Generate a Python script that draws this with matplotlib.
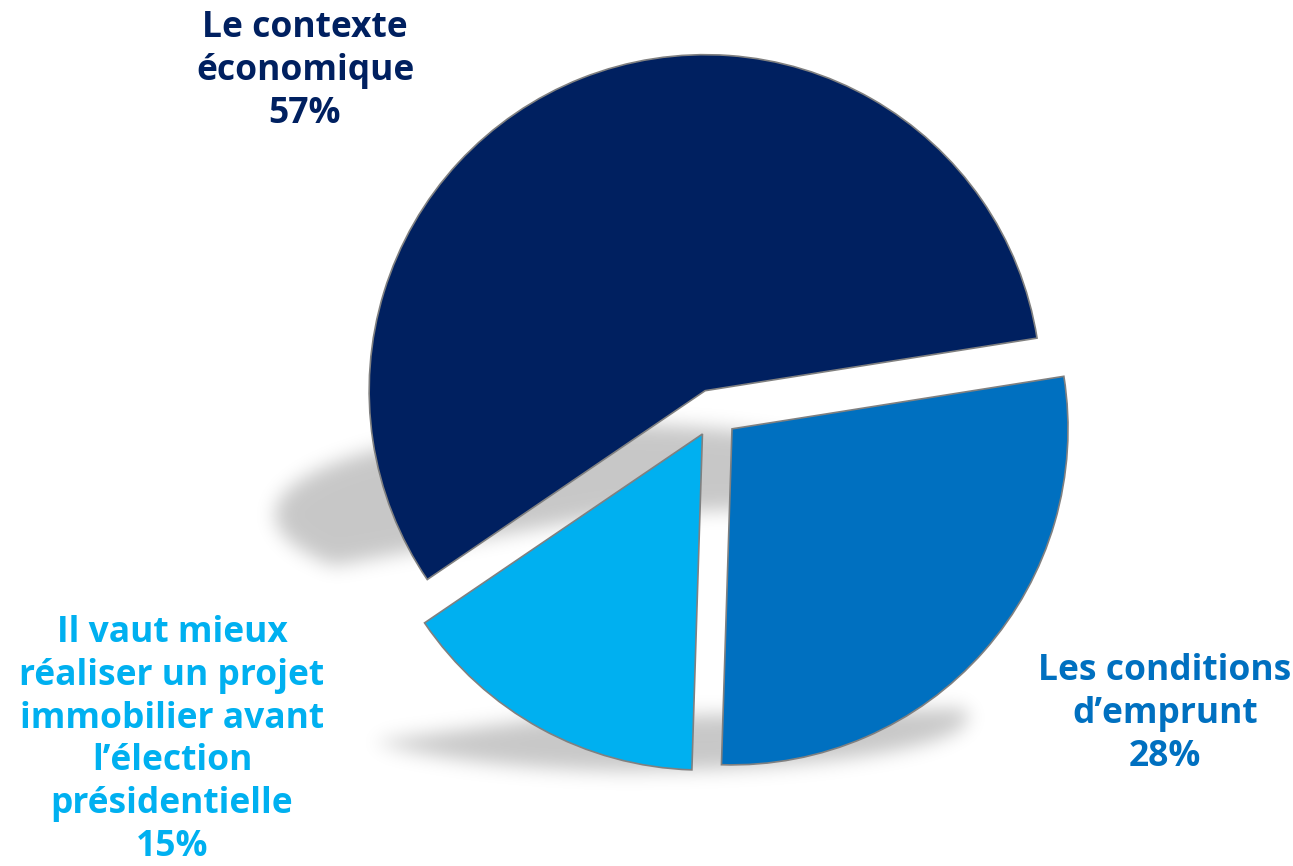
import matplotlib
matplotlib.use("Agg")
import numpy as np
import matplotlib.pyplot as plt
from matplotlib.patches import Wedge
from matplotlib.transforms import Affine2D

# ---- data ----
categories = ["Le contexte\néconomique",
              "Les conditions\nd\u2019emprunt",
              "Il vaut mieux\nréaliser un projet\nimmobilier avant\nl\u2019élection\nprésidentielle"]
values = [57, 28, 15]

# ---- style ----
colors = ["#002060", "#0070C0", "#00B0F0"]
W, H = 1293, 866
center = (714, H - 413)
radius = 336
explode = [24, 24, 24]
# per-wedge shadow: shift (dx, dy) and vertical squash k
shadow_params = [(-94, -124, 0.27), (-100, -288, 0.16), (-51, -270, 0.2)]
shadow_alpha = 0.22
shadow_sigma = 9.5

fig = plt.figure(figsize=(W / 100, H / 100), dpi=100)
ax = fig.add_axes([0, 0, 1, 1])

wedges, _ = ax.pie(values, colors=colors, explode=explode, startangle=214.2,
                   counterclock=False, center=center, radius=radius,
                   wedgeprops=dict(edgecolor="#808080", linewidth=1.2, zorder=3))

# ---- soft perspective shadows: render mask off-screen, blur, overlay ----
fig2 = plt.figure(figsize=(W / 100, H / 100), dpi=100)
ax2 = fig2.add_axes([0, 0, 1, 1])
ax2.set_xlim(0, W)
ax2.set_ylim(0, H)
ax2.axis("off")
for w, (dx, dy, k) in zip(wedges, shadow_params):
    cx, cy = w.center
    tr = Affine2D().translate(-cx, -cy).scale(1, k).translate(cx + dx, cy + dy) + ax2.transData
    ax2.add_patch(Wedge((cx, cy), w.r, w.theta1, w.theta2, facecolor="black",
                        edgecolor="none", transform=tr))
fig2.canvas.draw()
buf = np.asarray(fig2.canvas.buffer_rgba())[:, :, 0].astype(float)
plt.close(fig2)
mask = 1.0 - buf / 255.0

r = int(3 * shadow_sigma)
xs = np.arange(-r, r + 1)
kern = np.exp(-xs ** 2 / (2 * shadow_sigma ** 2))
kern /= kern.sum()
pad = np.pad(mask, r, mode="constant")
tmp = np.apply_along_axis(lambda m: np.convolve(m, kern, mode="same"), 0, pad)
tmp = np.apply_along_axis(lambda m: np.convolve(m, kern, mode="same"), 1, tmp)
blur = tmp[r:-r, r:-r]

rgba = np.zeros(blur.shape + (4,))
rgba[..., 3] = np.clip(blur, 0, 1) * shadow_alpha
ax.imshow(rgba, extent=(0, W, 0, H), origin="upper", zorder=1, interpolation="bilinear")

# ---- labels ----
font = dict(family=["Open Sans", "DejaVu Sans"], fontweight="bold", fontsize=25.5,
            ha="center", va="center")
label_pos = [(305, H - 71), (1165, H - 714), (172, H - 740)]
label_spacing = [1.27, 1.27, 1.25]
for cat, v, c, (x, y), ls in zip(categories, values, colors, label_pos, label_spacing):
    ax.text(x, y, f"{cat}\n{v}%", color=c, zorder=5, linespacing=ls, **font)

ax.set_xlim(0, W)
ax.set_ylim(0, H)
ax.set_aspect("auto")
ax.axis("off")
fig.savefig("out.png", dpi=100, facecolor="white")
